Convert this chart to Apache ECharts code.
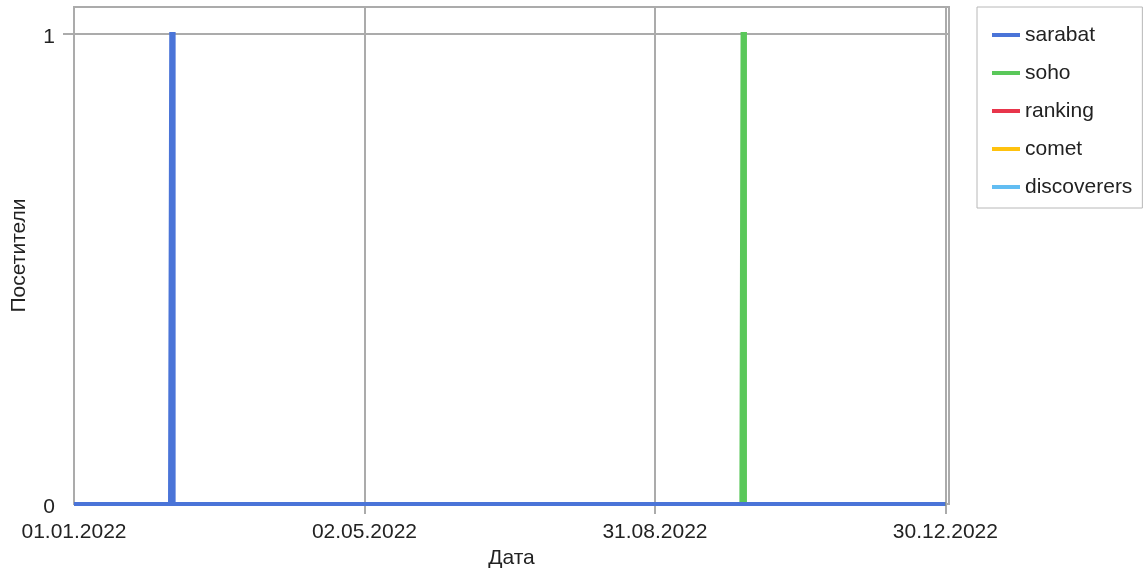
<!DOCTYPE html>
<html>
<head>
<meta charset="utf-8">
<script src="https://cdn.jsdelivr.net/npm/echarts@6/dist/echarts.min.js"></script>
<style>
html,body{margin:0;padding:0;background:#fff;}
#chart{width:1144px;height:572px;}
</style>
</head>
<body>
<div id="chart"></div>
<script>
const seriesNames = ['sarabat', 'soho', 'ranking', 'comet', 'discoverers'];
const sarabatDates = ['01.01.2022', '10.02.2022', '11.02.2022', '12.02.2022', '30.12.2022'];
const sarabatValues = [0, 0, 1, 0, 0];
const sohoDates = ['01.01.2022', '06.10.2022', '07.10.2022', '08.10.2022', '30.12.2022'];
const sohoValues = [0, 0, 1, 0, 0];
const rankingDates = ['01.01.2022', '30.12.2022'];
const rankingValues = [0, 0];
const cometDates = ['01.01.2022', '30.12.2022'];
const cometValues = [0, 0];
const discoverersDates = ['01.01.2022', '30.12.2022'];
const discoverersValues = [0, 0];
const xTickLabels = ['01.01.2022', '02.05.2022', '31.08.2022', '30.12.2022'];
const yTickLabels = [0, 1];

const colors = ['#4a74d8', '#5ac85a', '#e8354b', '#ffc20e', '#62bdf2'];
const FONT = '"Liberation Sans", Arial, sans-serif';
const GRID = '#ababab';

const origin = Date.UTC(2022, 0, 1);
function dayIndex(s) {
  const p = s.split('.');
  return (Date.UTC(+p[2], +p[1] - 1, +p[0]) - origin) / 86400000;
}
function dayLabel(v) {
  const d = new Date(origin + Math.round(v) * 86400000);
  const dd = String(d.getUTCDate()).padStart(2, '0');
  const mm = String(d.getUTCMonth() + 1).padStart(2, '0');
  return dd + '.' + mm + '.' + d.getUTCFullYear();
}
function pairs(dates, values) {
  return dates.map((d, i) => [dayIndex(d), values[i]]);
}
const allData = [
  pairs(sarabatDates, sarabatValues),
  pairs(sohoDates, sohoValues),
  pairs(rankingDates, rankingValues),
  pairs(cometDates, cometValues),
  pairs(discoverersDates, discoverersValues)
];
const xTicks = xTickLabels.map(dayIndex);

const chart = echarts.init(document.getElementById('chart'), null, {renderer: 'canvas'});
chart.setOption({
  animation: false,
  backgroundColor: '#ffffff',
  color: colors,
  textStyle: {fontFamily: FONT},
  grid: {
    left: 74, top: 7, width: 875, height: 497,
    containLabel: false,
    outerBoundsMode: 'none',
    show: true, borderColor: GRID, borderWidth: 2, backgroundColor: '#ffffff'
  },
  legend: {
    orient: 'vertical',
    left: 977, top: 7,
    padding: [16, 10, 9, 15],
    itemGap: 14,
    itemWidth: 28, itemHeight: 4,
    icon: 'rect',
    borderColor: '#b8b8b8', borderWidth: 1, borderRadius: 0,
    backgroundColor: '#ffffff',
    textStyle: {fontFamily: FONT, fontSize: 21, color: '#222', lineHeight: 24},
    data: seriesNames
  },
  xAxis: {
    type: 'value',
    min: 0, max: 364.5,
    name: 'Дата',
    nameLocation: 'middle',
    nameGap: 42,
    nameTextStyle: {fontFamily: FONT, fontSize: 21, color: '#222'},
    axisLine: {show: true, lineStyle: {color: GRID, width: 2}},
    axisTick: {show: true, length: 10, customValues: xTicks.slice(1), lineStyle: {color: GRID, width: 2}},
    axisLabel: {
      customValues: xTicks,
      margin: 18,
      fontFamily: FONT, fontSize: 21, color: '#222',
      formatter: v => dayLabel(v)
    },
    splitLine: {show: true, lineStyle: {color: GRID, width: 2}}
  },
  yAxis: {
    type: 'value',
    min: 0, max: 497 / 470,
    name: 'Посетители',
    nameLocation: 'middle',
    nameGap: 44,
    nameTextStyle: {fontFamily: FONT, fontSize: 21, color: '#222'},
    axisLine: {show: true, lineStyle: {color: GRID, width: 2}},
    axisTick: {show: true, length: 11, customValues: [1], lineStyle: {color: GRID, width: 2}},
    axisLabel: {
      customValues: yTickLabels,
      margin: 19,
      fontFamily: FONT, fontSize: 21, color: '#222',
      formatter: v => '{v|' + v + '}',
      rich: {v: {fontFamily: FONT, fontSize: 21, color: '#222', padding: [6, 0, 0, 0]}}
    },
    splitLine: {show: true, lineStyle: {color: GRID, width: 2}}
  },
  series: seriesNames.map((name, i) => ({
    name: name,
    type: 'line',
    step: 'middle',
    data: allData[i],
    showSymbol: false,
    symbol: 'none',
    z: 10 - i,
    lineStyle: {width: 4, color: colors[i], cap: 'butt', join: 'miter'},
    itemStyle: {color: colors[i]}
  }))
});
</script>
</body>
</html>
